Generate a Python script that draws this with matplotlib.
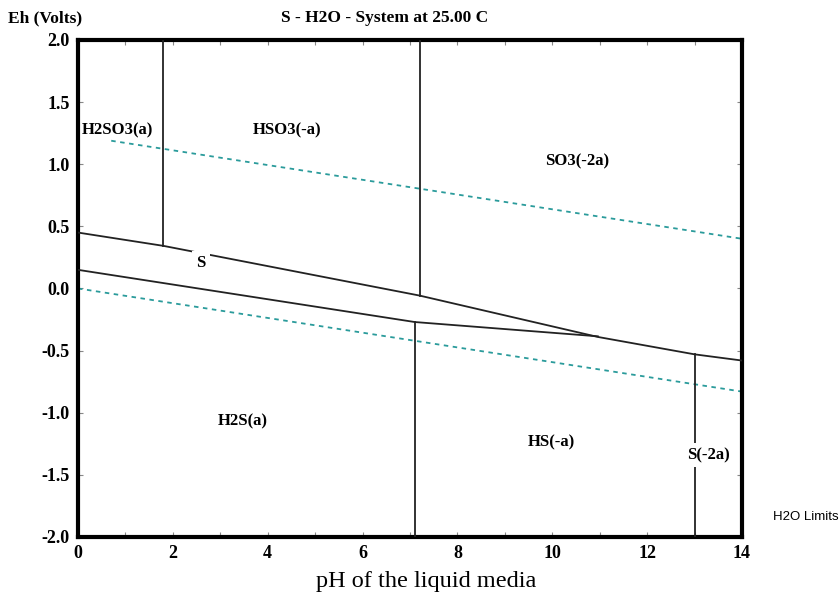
import numpy as np
import matplotlib
matplotlib.use('Agg')
import matplotlib.pyplot as plt

# Pourbaix (Eh-pH) diagram for the S - H2O system at 25 C
serif = 'Liberation Serif'

# upper sulfur boundary: H2SO3/HSO3-/SO3-- against S, HS-, S--
ph_top = [0.0, 1.8, 7.2, 10.96, 13.0, 14.0]
eh_top = [0.45, 0.343, -0.057, -0.39, -0.53, -0.58]
# lower sulfur boundary: S against H2S, HS-
ph_low = [0.0, 7.1, 10.96]
eh_low = [0.15, -0.27, -0.385]
# vertical acid/base boundaries (pH, Eh where they meet the boundary line)
ph_vert_up = [1.8, 7.2]
eh_vert_up = [0.343, -0.057]
ph_vert_dn = [7.1, 13.0]
eh_vert_dn = [-0.27, -0.53]
# water stability limits
ph_water = [0.7, 14.0]
eh_water_hi = [1.189, 0.40]
eh_water_lo = [0.0, -0.83]
ph_water_lo = [0.0, 14.0]

# field labels
labels = ['H2SO3(a)', 'HSO3(-a)', 'SO3(-2a)', 'S', 'H2S(a)', 'HS(-a)', 'S(-2a)']
lab_ph = [0.08, 4.41, 10.52, 2.59, 3.47, 9.99, 13.3]
lab_eh = [1.27, 1.27, 1.02, 0.205, -1.07, -1.235, -1.34]
lab_ha = ['left', 'center', 'center', 'center', 'center', 'center', 'center']
lab_box = [False, False, False, True, False, False, True]

fig = plt.figure(figsize=(8.39, 6.01), dpi=100)
ax = fig.add_axes([0.093, 0.1065, 0.7914, 0.827])

lc = '#222222'
ax.plot(ph_top, eh_top, color=lc, lw=1.3, zorder=3)
ax.plot(ph_low, eh_low, color=lc, lw=1.3, zorder=3)
for p, e in zip(ph_vert_up, eh_vert_up):
    ax.plot([p, p], [2.0, e], color=lc, lw=1.3, zorder=3)
for p, e in zip(ph_vert_dn, eh_vert_dn):
    ax.plot([p, p], [e, -2.0], color=lc, lw=1.3, zorder=3)

wc = '#2a9b9b'
ax.plot(ph_water, eh_water_hi, color=wc, lw=1.3, ls=(0, (2.5, 2.5)), zorder=2)
ax.plot(ph_water_lo, eh_water_lo, color=wc, lw=1.3, ls=(0, (2.5, 2.5)), zorder=2)

for t, x, y, ha, box in zip(labels, lab_ph, lab_eh, lab_ha, lab_box):
    kw = {}
    if box:
        kw['bbox'] = dict(facecolor='white', edgecolor='none', pad=3)
    ax.text(x, y, t, ha=ha, va='center', fontsize=12, fontweight='bold',
            family=serif, zorder=5, **kw)

ax.set_xlim(0, 14)
ax.set_ylim(-2, 2)
ax.set_xticks(np.arange(0, 15, 2))
ax.set_xticks(np.arange(1, 14, 2), minor=True)
ax.set_yticks(np.arange(-2, 2.01, 0.5))
ax.set_yticklabels(['%.1f' % v for v in np.arange(-2, 2.01, 0.5)])
ax.tick_params(which='both', direction='in', length=3.5, width=0.8, color='#888888',
               top=True, right=True, labelsize=13, pad=6)
for lab in ax.get_xticklabels() + ax.get_yticklabels():
    lab.set_family(serif)
    lab.set_fontweight('bold')
for s in ax.spines.values():
    s.set_linewidth(3)
    s.set_color('black')

ax.set_xlabel('pH of the liquid media', family=serif, fontsize=17.5, labelpad=6)
ax.xaxis.label.set_x(0.524)
fig.text(0.458, 0.97, 'S - H2O - System at 25.00 C', ha='center', va='center',
         family=serif, fontsize=12.5, fontweight='bold')
fig.text(0.01, 0.97, 'Eh (Volts)', ha='left', va='center',
         family=serif, fontsize=12.5, fontweight='bold')
fig.text(0.999, 0.14, 'H2O Limits', ha='right', va='center',
         family='Liberation Sans', fontsize=9.5)

fig.savefig('out.png', dpi=100)
